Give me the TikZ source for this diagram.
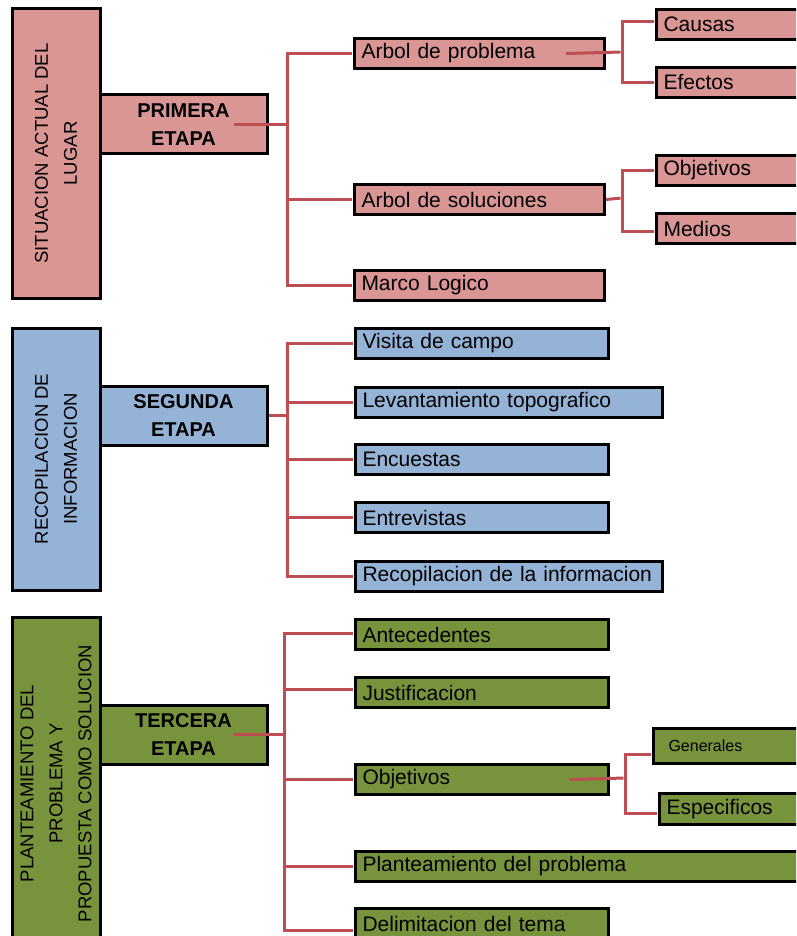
\documentclass[tikz,border=0pt]{standalone}
\usepackage{fontspec}
\setmainfont{Liberation Sans}
\usepackage{tikz}
\usetikzlibrary{positioning}
\definecolor{pinkfill}{RGB}{217,150,148}
\definecolor{bluefill}{RGB}{149,179,215}
\definecolor{greenfill}{RGB}{119,147,60}
\definecolor{linkred}{RGB}{188,78,84}
\tikzstyle{side} = [rectangle, draw=black, line width=3pt, rotate=90, minimum height=88pt, align=center, inner sep=0pt, font=\fontsize{18.5}{29}\selectfont]
\tikzstyle{stage} = [rectangle, draw=black, line width=3pt, minimum width=167pt, minimum height=59pt, align=center, inner sep=0pt, font=\fontsize{20}{28}\selectfont\bfseries]
\tikzstyle{leaf} = [rectangle, draw=black, line width=3pt, anchor=north west, minimum height=30pt, inner xsep=7pt, inner ysep=0pt, align=left, font=\fontsize{21}{24}\selectfont]
\tikzstyle{link} = [draw=linkred, line width=3pt, shorten >=1.5pt]

\begin{document}
\begin{tikzpicture}[x=1pt, y=-1pt]

            \clip (0,0) rectangle (796,936);

            % primera etapa
            \node (sit) [side, fill=pinkfill, minimum width=289pt] at (56,153.5) {SITUACION ACTUAL DEL\\LUGAR};
            \node (prim) [stage, fill=pinkfill] at (183.5,124.5) {PRIMERA\\ETAPA};
            \node (arbp) [leaf, fill=pinkfill, text width=236pt] at (353,37) {Arbol de problema};
            \node (caus) [leaf, fill=pinkfill, text width=150pt] at (655,8) {Causas};
            \node (efec) [leaf, fill=pinkfill, text width=150pt] at (655,66) {Efectos};
            \node (arbs) [leaf, fill=pinkfill, text width=236pt] at (353,183) {Arbol de soluciones};
            \node (objs) [leaf, fill=pinkfill, text width=150pt] at (655,154) {Objetivos};
            \node (medi) [leaf, fill=pinkfill, text width=150pt] at (655,212) {Medios};
            \node (marc) [leaf, fill=pinkfill, text width=236pt] at (353,269) {Marco Logico};

            \coordinate (t1) at (287,124.5);
            \coordinate (t2) at (622,52);
            \coordinate (t3) at (622,198);
            \draw [link] ([xshift=-35pt]prim.east) -- (t1);
            \draw [link] (t1) |- (arbp.west);
            \draw [link] (t1) |- (arbs.west);
            \draw [link] (t1) |- (marc.west);
            \draw [link] ([xshift=-40pt]arbp.east) -- (t2);
            \draw [link] (t2) |- ([yshift=3pt]caus.west);
            \draw [link] (t2) |- (efec.west);
            \draw [link] (arbs.east) -- (t3);
            \draw [link] (t3) |- (objs.west);
            \draw [link] (t3) |- ([yshift=-3pt]medi.west);

            % segunda etapa
            \node (reca) [side, fill=bluefill, minimum width=262pt] at (56,459) {RECOPILACION DE\\INFORMACION};
            \node (segu) [stage, fill=bluefill] at (183.5,415.5) {SEGUNDA\\ETAPA};
            \node (visi) [leaf, fill=bluefill, text width=239pt] at (354,327) {Visita de campo};
            \node (leva) [leaf, fill=bluefill, text width=293pt] at (354,386) {Levantamiento topografico};
            \node (encu) [leaf, fill=bluefill, text width=239pt] at (354,443) {Encuestas};
            \node (entr) [leaf, fill=bluefill, text width=239pt] at (354,501) {Entrevistas};
            \node (reco) [leaf, fill=bluefill, text width=293pt] at (354,560) {Recopilacion de la informacion};

            \coordinate (t4) at (287,415.5);
            \draw [link] (segu.east) -- (t4);
            \draw [link] (t4) |- (visi.west);
            \draw [link] (t4) |- (leva.west);
            \draw [link] (t4) |- (encu.west);
            \draw [link] (t4) |- (entr.west);
            \draw [link] (t4) |- (reco.west);

            % tercera etapa
            \node (plnt) [side, fill=greenfill, minimum width=333pt] at (56,783.5) {PLANTEAMIENTO DEL\\PROBLEMA Y\\PROPUESTA COMO SOLUCION};
            \node (terc) [stage, fill=greenfill] at (183.5,734.5) {TERCERA\\ETAPA};
            \node (ante) [leaf, fill=greenfill, text width=239pt] at (354,618) {Antecedentes};
            \node (just) [leaf, fill=greenfill, text width=239pt] at (354,676) {Justificacion};
            \node (obje) [leaf, fill=greenfill, text width=239pt] at (354,763) {Objetivos};
            \node (gene) [leaf, fill=greenfill, text width=150pt, minimum height=35pt, inner xsep=15pt, font=\fontsize{16}{18}\selectfont] at (652,727) {Generales};
            \node (espe) [leaf, fill=greenfill, text width=150pt, minimum height=31pt] at (658,792) {Especificos};
            \node (plan) [leaf, fill=greenfill, text width=450pt] at (354,850) {Planteamiento del problema};
            \node (deli) [leaf, fill=greenfill, text width=239pt] at (354,907) {Delimitacion del tema};

            \coordinate (t5) at (284,734.5);
            \coordinate (t6) at (625,778);
            \draw [link] ([xshift=-35pt]terc.east) -- (t5);
            \draw [link] (t5) |- ([yshift=1pt]ante.west);
            \draw [link] (t5) |- ([yshift=3pt]just.west);
            \draw [link] (t5) |- (obje.west);
            \draw [link] (t5) |- (plan.west);
            \draw [link] (t5) |- ([yshift=-7pt]deli.west);
            \draw [link] ([xshift=-40pt]obje.east) -- (t6);
            \draw [link] (t6) |- ([yshift=-8pt]gene.west);
            \draw [link] (t6) |- ([yshift=-4pt]espe.west);

        \end{tikzpicture}
\end{document}
